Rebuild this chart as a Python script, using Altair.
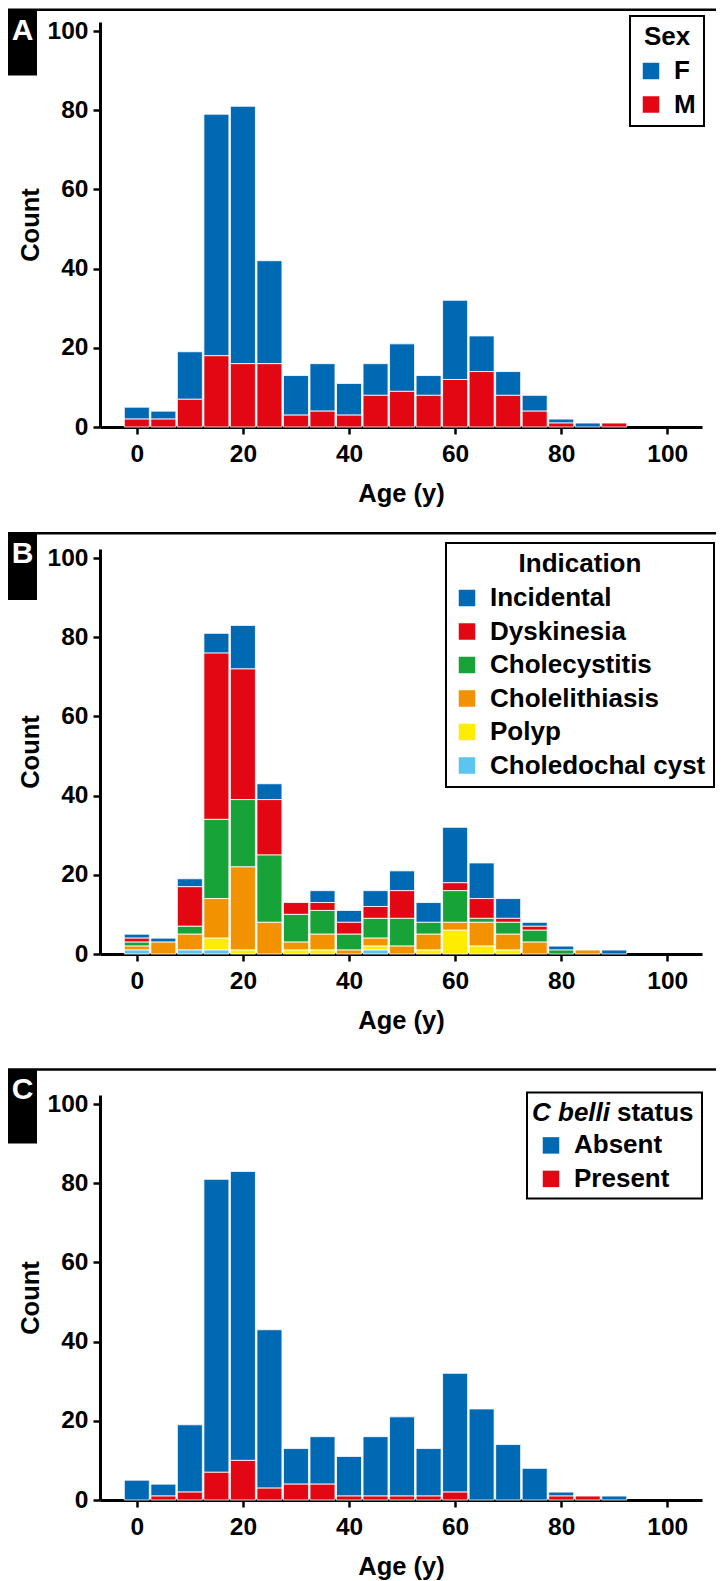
import altair as alt
import pandas as pd

# ---------------- data ----------------
ages = [0, 5, 10, 15, 20, 25, 30, 35, 40, 45, 50, 55, 60, 65, 70, 75, 80, 85, 90]

sex_labels = ["F", "M"]
sex_F = [3, 2, 12, 61, 65, 26, 10, 12, 8, 8, 12, 5, 20, 9, 6, 4, 1, 1, 0]
sex_M = [2, 2, 7, 18, 16, 16, 3, 4, 3, 8, 9, 8, 12, 14, 8, 4, 1, 0, 1]

indication_labels = ["Incidental", "Dyskinesia", "Cholecystitis",
                     "Cholelithiasis", "Polyp", "Choledochal cyst"]
ind_incidental = [1, 1, 2, 5, 11, 4, 0, 3, 3, 4, 5, 5, 14, 9, 5, 1, 1, 0, 1]
ind_dyskinesia = [1, 0, 10, 42, 33, 14, 3, 2, 3, 3, 7, 0, 2, 5, 1, 1, 0, 0, 0]
ind_cholecystitis = [1, 0, 2, 20, 17, 17, 7, 6, 4, 5, 7, 3, 8, 1, 3, 3, 1, 0, 0]
ind_cholelithiasis = [1, 3, 4, 10, 21, 8, 2, 4, 1, 2, 2, 4, 2, 6, 4, 3, 0, 1, 0]
ind_polyp = [0, 0, 0, 3, 1, 0, 1, 1, 0, 1, 0, 1, 6, 2, 1, 0, 0, 0, 0]
ind_cyst = [1, 0, 1, 1, 0, 0, 0, 0, 0, 1, 0, 0, 0, 0, 0, 0, 0, 0, 0]

status_labels = ["Absent", "Present"]
status_absent = [5, 3, 17, 74, 73, 40, 9, 12, 10, 15, 20, 12, 30, 23, 14, 8, 1, 0, 1]
status_present = [0, 1, 2, 7, 10, 3, 4, 4, 1, 1, 1, 1, 2, 0, 0, 0, 1, 1, 0]

x_ticks = [0, 20, 40, 60, 80, 100]
y_ticks = [0, 20, 40, 60, 80, 100]

BLUE, RED, GREEN = "#0069b4", "#e30613", "#18a338"
ORANGE, YELLOW, LIGHTBLUE = "#f39200", "#ffed00", "#5bc5f2"

FONT = "Liberation Sans"
W, H = 602, 405
XDOM = [-6, 105.6]
YDOM = [0, 102.3]


def long_table(field, labels, series):
    rows = []
    n = len(labels)
    for k, (lab, vals) in enumerate(zip(labels, series)):
        for a, v in zip(ages, vals):
            if v > 0:
                rows.append({"age": a, field: lab, "count": v, "stack_order": n - 1 - k})
    return pd.DataFrame(rows)


one = pd.DataFrame({"k": [0]})


def panel(df, field, labels, colors, letter, line_y, box_y2, letter_y,
          legend, bottom_y, extra=None):
    bars = alt.Chart(df).mark_bar(
        size=25, stroke="white", strokeWidth=1, strokeOpacity=0.8, orient="vertical"
    ).encode(
        x=alt.X("age:Q", scale=alt.Scale(domain=XDOM, nice=False, zero=False),
                axis=alt.Axis(values=x_ticks, title="Age (y)", labelFlush=False)),
        y=alt.Y("count:Q", stack="zero", scale=alt.Scale(domain=YDOM, nice=False),
                axis=alt.Axis(values=y_ticks, title="Count", labelFlush=False)),
        color=alt.Color(f"{field}:N", scale=alt.Scale(domain=labels, range=colors),
                        legend=legend),
        order=alt.Order("stack_order:Q", sort="ascending"),
    )
    line = alt.Chart(one).mark_rect(color="black").encode(
        x=alt.value(-63), x2=alt.value(616), y=alt.value(line_y), y2=alt.value(line_y + 2.5))
    box = alt.Chart(one).mark_rect(color="black").encode(
        x=alt.value(-92), x2=alt.value(-63), y=alt.value(line_y), y2=alt.value(box_y2))
    lab = alt.Chart(one).mark_text(
        text=letter, color="white", font=FONT, fontSize=30, fontWeight="bold",
        align="center", baseline="middle").encode(x=alt.value(-77.5), y=alt.value(letter_y))
    layers = [bars, line, box, lab]
    if bottom_y is not None:
        filler = alt.Chart(one).mark_rect(color="white").encode(
            x=alt.value(600), x2=alt.value(601), y=alt.value(bottom_y - 10), y2=alt.value(bottom_y))
        layers = [filler] + layers
    if extra:
        layers += extra
    return alt.layer(*layers).properties(width=W, height=H)


dfA = long_table("Sex", sex_labels, [sex_F, sex_M])
dfB = long_table("Indication", indication_labels,
                 [ind_incidental, ind_dyskinesia, ind_cholecystitis,
                  ind_cholelithiasis, ind_polyp, ind_cyst])
dfC = long_table("Status", status_labels, [status_absent, status_present])

pA = panel(dfA, "Sex", sex_labels, [BLUE, RED], "A", -13.5, 53.5, 8.5,
           alt.Legend(title="Sex", orient="none", legendX=530, legendY=-6,
                      titleAnchor="middle", strokeColor="black"),
           509.5)
pB = panel(dfB, "Indication", indication_labels,
           [BLUE, RED, GREEN, ORANGE, YELLOW, LIGHTBLUE], "B", -17, 51, 4.5,
           alt.Legend(title="Indication", orient="none", legendX=346, legendY=-6,
                      titleAnchor="middle", strokeColor="black"),
           518.9)

# panel C legend: box and mixed italic / upright title drawn as marks,
# entries from the library's legend
c_lx, c_ly, c_w, c_h = 427, -2.6, 175, 106
c_box = alt.Chart(one).mark_rect(filled=False, stroke="black", strokeWidth=2).encode(
    x=alt.value(c_lx), x2=alt.value(c_lx + c_w), y=alt.value(c_ly), y2=alt.value(c_ly + c_h))
c_title1 = alt.Chart(one).mark_text(
    text="C belli", font=FONT, fontSize=26, fontWeight="bold", fontStyle="italic",
    color="black", align="left", baseline="top").encode(
    x=alt.value(c_lx + 5), y=alt.value(c_ly + 8))
c_title2 = alt.Chart(one).mark_text(
    text="status", font=FONT, fontSize=26, fontWeight="bold",
    color="black", align="left", baseline="top").encode(
    x=alt.value(c_lx + 5 + 85), y=alt.value(c_ly + 8))
pC = panel(dfC, "Status", status_labels, [BLUE, RED], "C", -26.7, 48.4, -4.6,
           alt.Legend(title=None, orient="none", legendX=c_lx + 3, legendY=c_ly + 32,
                      strokeColor="transparent"),
           None, extra=[c_box, c_title1, c_title2])

chart = alt.vconcat(pA, pB, pC, spacing=0).resolve_scale(
    color="independent"
).resolve_legend(color="independent").properties(padding=0).configure_view(
    stroke=None
).configure_axis(
    domainColor="black", domainWidth=3, tickColor="black", tickWidth=2.5, tickSize=7,
    labelFont=FONT, labelFontSize=24.5, labelFontWeight="bold", labelColor="black",
    titleFont=FONT, titleFontSize=25.5, titleFontWeight="bold", titleColor="black",
    grid=False, labelOverlap=False
).configure_axisX(labelPadding=8, titlePadding=16).configure_axisY(
    labelPadding=5, titlePadding=4
).configure_legend(
    padding=8, strokeWidth=2,
    titleFont=FONT, titleFontSize=26, titleFontWeight="bold", titleColor="black",
    labelFont=FONT, labelFontSize=26, labelFontWeight="bold", labelColor="black",
    labelLimit=400, titleLimit=400,
    symbolType="square", symbolSize=272, symbolStrokeWidth=0, labelOffset=10,
    rowPadding=7.5, titlePadding=8, symbolOpacity=1
)

chart.save("out.html", embed_options={"renderer": "svg", "actions": False})
